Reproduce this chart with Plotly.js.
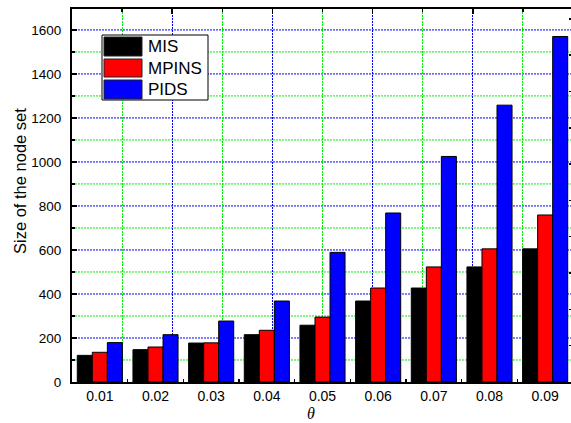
<!DOCTYPE html>
<html><head><meta charset="utf-8">
<script src="https://cdn.plot.ly/plotly-3.0.1.min.js"></script>
<style>html,body{margin:0;padding:0;overflow:hidden;background:#fff}</style>
</head><body><div id="chart" style="width:573px;height:423px"></div>
<script>
const categories = ['0.01','0.02','0.03','0.04','0.05','0.06','0.07','0.08','0.09'];
const misValues   = [121, 147, 177, 215, 258, 368, 427, 523, 605];
const mpinsValues = [135, 159, 178, 235, 295, 427, 523, 605, 759];
const pidsValues  = [179, 215, 277, 368, 589, 768, 1025, 1258, 1570];
const seriesNames = ['MIS','MPINS','PIDS'];
const seriesColors = ['#000000','#ff0000','#0000ff'];
const yGridMajor = [200, 400, 600, 800, 1000, 1200, 1400, 1600];
const yGridMinor = [100, 300, 500, 700, 900, 1100, 1300, 1500];

const W = 573, H = 423, L = 72, R = 0, T = 9, B = 41;
const pw = W - L - R, ph = H - T - B;
const px = x => (x - L) / pw;
const py = y => (H - B - y) / ph;
const yMax = 1695;
const DOT = '2px,1px';

const traces = [misValues, mpinsValues, pidsValues].map((v, i) => ({
  type: 'bar', x: categories, y: v, name: seriesNames[i],
  marker: {color: seriesColors[i], line: {color: '#000', width: 1}},
  xaxis: 'x', yaxis: 'y', showlegend: false, hoverinfo: 'skip'
}));
// invisible helper traces so the extra tick axes are drawn
traces.push({type:'scatter', x:[0,10], y:[0,yMax], xaxis:'x2', yaxis:'y', mode:'none', showlegend:false, hoverinfo:'skip'});
traces.push({type:'scatter', x:categories.slice(0,2), y:[0,1], xaxis:'x', yaxis:'y3', mode:'none', showlegend:false, hoverinfo:'skip'});

const shapes = [];
const annotations = [];
yGridMinor.forEach(v => shapes.push({type:'line', xref:'paper', yref:'y', x0:0, x1:1, y0:v, y1:v,
  line:{color:'#00ee00', width:1, dash:DOT}, layer:'below'}));
yGridMajor.forEach(v => shapes.push({type:'line', xref:'paper', yref:'y', x0:0, x1:1, y0:v, y1:v,
  line:{color:'#0000ff', width:1, dash:DOT}, layer:'below'}));
// legend
shapes.push({type:'rect', xref:'paper', yref:'paper', x0:px(102), x1:px(208), y0:py(100), y1:py(35),
  fillcolor:'#fff', line:{color:'#000', width:1}, layer:'above'});
const sw = [[37,56],[59,77],[80,99]];
seriesNames.forEach((n, i) => {
  shapes.push({type:'rect', xref:'paper', yref:'paper', x0:px(104), x1:px(142), y0:py(sw[i][1]), y1:py(sw[i][0]),
    fillcolor:seriesColors[i], line:{color:'#222', width:1}, layer:'above'});
  annotations.push({xref:'paper', yref:'paper', x:px(146), y:py((sw[i][0]+sw[i][1])/2), xanchor:'left', yanchor:'middle',
    text:n, showarrow:false, font:{family:'Liberation Sans, Arial, sans-serif', size:17, color:'#000'}});
});
annotations.push({xref:'paper', yref:'paper', x:px(20), y:py(181), text:'Size of the node set', textangle:-90,
  showarrow:false, xanchor:'center', yanchor:'middle', font:{family:'Liberation Sans, Arial, sans-serif', size:16.5, color:'#000'}});
annotations.push({xref:'paper', yref:'paper', x:px(311), y:py(423), text:'θ', showarrow:false, borderpad:0,
  xanchor:'center', yanchor:'bottom', font:{family:'Liberation Serif, Times New Roman, serif', size:16, color:'#000', style:'italic'}});

const layout = {
  width: W, height: H, margin: {l: L, r: R, t: T, b: B, pad: 0},
  paper_bgcolor: '#fff', plot_bgcolor: '#fff',
  barmode: 'group', bargap: 0.19, bargroupgap: 0,
  font: {family: 'Liberation Sans, Arial, sans-serif', size: 13.5, color: '#000'},
  xaxis: {type:'category', range:[-0.5, 8.5], showgrid:false, tickson:'boundaries', ticks:'inside', ticklen:3,
    tickwidth:1.5, tickcolor:'#000', showline:true, linecolor:'#000', linewidth:2, ticklabelstandoff:0,
    tickfont:{size:14}, zeroline:false},
  yaxis: {range:[0, yMax], dtick:200, tick0:0, showgrid:false,
    minor:{dtick:100, ticks:'inside', ticklen:3, tickcolor:'#000'},
    ticks:'inside', ticklen:5, tickwidth:1.5, tickcolor:'#000', showline:true, linecolor:'#000', linewidth:2,
    zeroline:false, ticklabelstandoff:6},
  xaxis2: {overlaying:'x', side:'top', anchor:'y', range:[0,10], dtick:2, tick0:0, showgrid:true, gridcolor:'#0000ff',
    griddash:DOT, gridwidth:1,
    minor:{dtick:1, showgrid:true, gridcolor:'#00ee00', griddash:DOT, gridwidth:1, ticks:'inside', ticklen:3, tickcolor:'#000'},
    ticks:'inside', ticklen:5, tickwidth:1.5, tickcolor:'#000', showticklabels:false, showline:true, linecolor:'#000', linewidth:2,
    zeroline:false, layer:'below traces'},
  yaxis3: {overlaying:'y', side:'right', anchor:'x', range:[0, 10.27], dtick:1, tick0:0, showgrid:false, ticks:'inside', ticklen:4,
    tickwidth:1.5, tickcolor:'#000', showticklabels:false, showline:false, zeroline:false},
  shapes: shapes, annotations: annotations, showlegend: false
};
Plotly.newPlot('chart', traces, layout, {staticPlot:true, displayModeBar:false});
</script></body></html>
